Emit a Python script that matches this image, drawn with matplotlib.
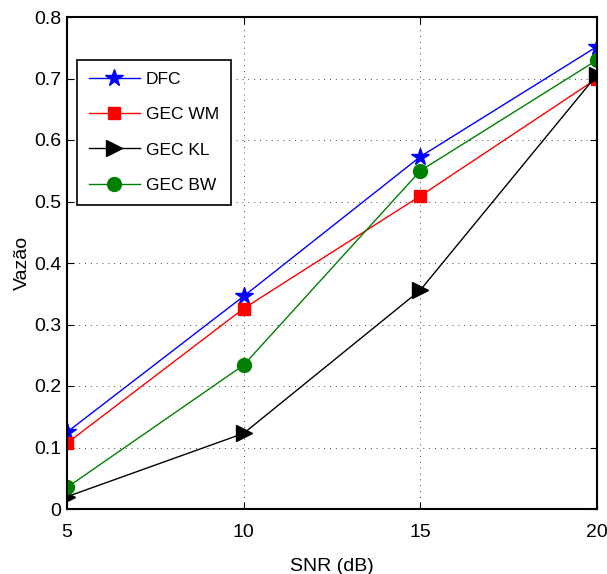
import matplotlib
matplotlib.use("Agg")
import matplotlib.pyplot as plt

plt.rcParams['font.family'] = ['Liberation Sans', 'DejaVu Sans']

snr = [5, 10, 15, 20]
dfc = [0.125, 0.346, 0.573, 0.752]
gec_wm = [0.107, 0.326, 0.509, 0.700]
gec_kl = [0.020, 0.123, 0.356, 0.706]
gec_bw = [0.035, 0.234, 0.550, 0.730]
labels = ['DFC', 'GEC WM', 'GEC KL', 'GEC BW']
yticks = [0, 0.1, 0.2, 0.3, 0.4, 0.5, 0.6, 0.7, 0.8]
ytick_labels = ['0', '0.1', '0.2', '0.3', '0.4', '0.5', '0.6', '0.7', '0.8']
xticks = [5, 10, 15, 20]

fig = plt.figure(figsize=(6.07, 5.74), dpi=100)
ax = fig.add_axes([67/607, 65/574, 530/607, 492/574])

ax.plot(snr, dfc, color='blue', marker='*', markersize=13, lw=1, label=labels[0])
ax.plot(snr, gec_wm, color='red', marker='s', markersize=9, lw=1, label=labels[1])
ax.plot(snr, gec_kl, color='black', marker='>', markersize=11, lw=1, label=labels[2])
ax.plot(snr, gec_bw, color='green', marker='o', markersize=10, lw=1, label=labels[3])

ax.set_xlim(5, 20)
ax.set_ylim(0, 0.8)
ax.set_xticks(xticks)
ax.set_xticklabels([str(x) for x in xticks])
ax.set_yticks(yticks)
ax.set_yticklabels(ytick_labels)
ax.tick_params(direction='in', top=True, right=True, labelsize=14, length=5, width=0.8)
ax.tick_params(axis='y', pad=4)
ax.tick_params(axis='x', pad=10.5)
ax.grid(True, linestyle=(0, (1, 5)), color='#444444', lw=0.7)
for s in ax.spines.values():
    s.set_linewidth(1.5)
ax.set_xlabel('SNR (dB)', fontsize=14)
ax.set_ylabel('Vazão', fontsize=14)
ax.xaxis.set_label_coords(0.5, -0.0995)
ax.yaxis.set_label_coords(-0.068, 0.5)

leg = ax.legend(loc='upper left', bbox_to_anchor=(0.0189, 0.9126), borderaxespad=0,
                fontsize=12.5, fancybox=False, edgecolor='black', framealpha=1,
                handlelength=2.9, labelspacing=1.15, borderpad=0.7, handletextpad=0.35)
leg.get_frame().set_linewidth(1.2)

fig.savefig('out.png', dpi=100)
